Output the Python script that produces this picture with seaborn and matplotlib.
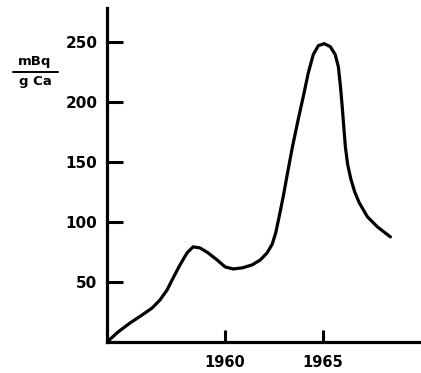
import matplotlib
matplotlib.use("Agg")
import matplotlib.pyplot as plt
import seaborn as sns
import pandas as pd
from matplotlib.lines import Line2D

# Data
years = [1954.00, 1954.56, 1955.17, 1955.79, 1956.30, 1956.70, 1957.06, 1957.37,
         1957.72, 1958.08, 1958.39, 1958.74, 1959.15, 1959.61, 1960.02, 1960.43,
         1960.89, 1961.40, 1961.81, 1962.16, 1962.42, 1962.60, 1962.78, 1962.98,
         1963.18, 1963.44, 1963.74, 1964.00, 1964.26, 1964.51, 1964.77, 1965.07,
         1965.38, 1965.63, 1965.79, 1965.90, 1965.99, 1966.07, 1966.15, 1966.26,
         1966.42, 1966.62, 1966.85, 1967.27, 1967.78, 1968.44]
values = [0, 8.3, 15.8, 22.5, 28.3, 35, 43.3, 53.3,
          64.2, 74.2, 79.2, 78.3, 74.2, 68.3, 62.5, 60.8,
          61.7, 64.2, 68.3, 74.2, 81.5, 91, 105, 121,
          139, 161.7, 185, 204.2, 224.2, 239.2, 246.7, 248.3,
          245.8, 239.2, 229, 212, 195, 178, 162, 148,
          136, 125, 116, 104.2, 95.8, 87.5]
y_ticks = [50, 100, 150, 200, 250]
x_ticks = [1960, 1965]
unit_top = "mBq"
unit_bottom = "g Ca"

df = pd.DataFrame({"year": years, "value": values})

sns.set_theme(style="white")
plt.rcParams["font.family"] = ["DejaVu Sans"]
plt.rcParams["text.color"] = "black"

W, H = 421, 373
fig = plt.figure(figsize=(W / 100, H / 100), dpi=100)
ax = fig.add_axes([107 / W, 31 / H, (W - 107) / W, 334 / H])

sns.lineplot(data=df, x="year", y="value", ax=ax, color="black",
             linewidth=2.3, sort=False, solid_capstyle="round",
             solid_joinstyle="round")

ax.set_xlim(1954, 1970)
ax.set_ylim(0, 278)
ax.set_xticks(x_ticks)
ax.set_yticks(y_ticks)
ax.set_xticklabels([str(t) for t in x_ticks], fontweight="bold", fontsize=10.5,
                   color="black")
ax.set_yticklabels([str(t) for t in y_ticks], fontweight="bold", fontsize=11,
                   color="black")
ax.set_xlabel("")
ax.set_ylabel("")

for side in ["top", "right"]:
    ax.spines[side].set_visible(False)
for side in ["left", "bottom"]:
    ax.spines[side].set_visible(True)
    ax.spines[side].set_color("black")
    ax.spines[side].set_linewidth(2.3)

ax.tick_params(axis="y", direction="in", length=11.5, width=2.2, pad=7,
               colors="black", left=True)
ax.tick_params(axis="x", direction="in", length=8.5, width=2.2, pad=9.5,
               colors="black", bottom=True)

# Unit label as a fraction
fig.text(35 / W, 1 - 62 / H, unit_top, ha="center", va="center",
         fontsize=9.5, fontweight="bold", color="black")
fig.text(35 / W, 1 - 82 / H, unit_bottom, ha="center", va="center",
         fontsize=9.5, fontweight="bold", color="black")
fig.add_artist(Line2D([13 / W, 58 / W], [1 - 72 / H, 1 - 72 / H],
                      color="black", linewidth=1.4, transform=fig.transFigure))

fig.savefig("out.png", dpi=100, facecolor="white")
